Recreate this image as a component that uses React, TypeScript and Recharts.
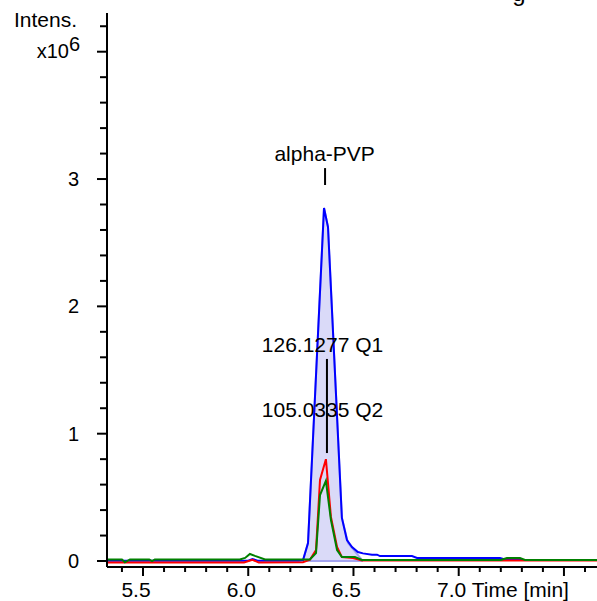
import React from 'react';
import { ComposedChart, Line, Area, XAxis, YAxis, ReferenceLine, ReferenceDot } from 'recharts';

// retention times (min) and intensities (x10^6)
const blueTimes = [5.329, 5.95, 6.0, 6.02, 6.045, 6.24, 6.26, 6.284, 6.36, 6.379, 6.445, 6.469, 6.493, 6.521, 6.545, 6.588, 6.612, 6.626, 6.778, 6.802, 7.196, 7.229, 7.657];
const blueValues = [0.003, 0.003, 0.003, 0.015, 0.003, 0.003, 0.005, 0.141, 2.772, 2.623, 0.338, 0.165, 0.11, 0.071, 0.06, 0.05, 0.05, 0.039, 0.039, 0.024, 0.024, 0.008, 0.008];

const redTimes = [5.329, 5.98, 6.02, 6.05, 6.26, 6.293, 6.322, 6.341, 6.369, 6.393, 6.422, 6.445, 6.498, 6.54, 7.657];
const redValues = [-0.012, -0.012, 0.01, -0.012, -0.01, 0.01, 0.086, 0.636, 0.8, 0.346, 0.11, 0.031, 0.024, 0.005, 0.005];

const greenTimes = [5.329, 5.4, 5.414, 5.438, 5.53, 5.543, 5.556, 5.96, 5.985, 6.008, 6.032, 6.08, 6.293, 6.322, 6.341, 6.369, 6.393, 6.422, 6.445, 6.507, 6.54, 7.2, 7.229, 7.291, 7.315, 7.657];
const greenValues = [0.012, 0.012, -0.01, 0.012, 0.012, 0.0, 0.012, 0.012, 0.024, 0.055, 0.04, 0.012, 0.012, 0.063, 0.518, 0.63, 0.322, 0.086, 0.031, 0.031, 0.008, 0.008, 0.024, 0.024, 0.008, 0.008];

// integrated peak region
const areaTimes = [6.26, 6.284, 6.36, 6.379, 6.445, 6.474, 6.545];
const areaValues = [0, 0.141, 2.772, 2.623, 0.338, 0.141, 0];

const xTicks = [5.4, 5.5, 5.6, 5.7, 5.8, 5.9, 6.0, 6.1, 6.2, 6.3, 6.4, 6.5, 6.6, 6.7, 6.8, 6.9, 7.0, 7.1, 7.2, 7.3, 7.4, 7.5, 7.6];
const xLabels: Record<string, string> = { '5.5': '5.5', '6': '6.0', '6.5': '6.5', '7': '7.0' };
const yTicks = [0, 0.2, 0.4, 0.6, 0.8, 1, 1.2, 1.4, 1.6, 1.8, 2, 2.2, 2.4, 2.6, 2.8, 3, 3.2, 3.4, 3.6, 3.8, 4, 4.2];
const yLabels: Record<string, string> = { '0': '0', '1': '1', '2': '2', '3': '3' };

// peak annotations: label, text position, marker from/to
const peakNames = ['alpha-PVP', '126.1277 Q1', '105.0335 Q2'];
const peakTextTimes = [6.363, 6.353, 6.353];
const peakTextValues = [3.14, 1.64, 1.13];
const markerTimes = [6.365, 6.374];
const markerFrom = [2.953, 0.848];
const markerTo = [3.086, 1.587];

const toRows = (t: number[], v: number[]) => t.map((time, i) => ({ t: time, v: v[i] }));
const blueData = toRows(blueTimes, blueValues);
const redData = toRows(redTimes, redValues);
const greenData = toRows(greenTimes, greenValues);
const areaData = toRows(areaTimes, areaValues);
const baseData = [{ t: areaTimes[0], v: 0 }, { t: areaTimes[areaTimes.length - 1], v: 0 }];

const FONT = '"Liberation Sans", Arial, sans-serif';
const W = 597;
const H = 601;
const LEFT = 107;
const BOTTOM = 567;

const XTick = (props: any) => {
  const { x, payload } = props;
  const val = payload.value;
  const major = Math.abs(val * 2 - Math.round(val * 2)) < 1e-6;
  const label = xLabels[String(Math.round(val * 10) / 10)];
  return (
    <g>
      <line x1={x} x2={x} y1={BOTTOM} y2={major ? BOTTOM + 9 : BOTTOM + 5} stroke="#000" strokeWidth={2} />
      {label && (
        <text x={x - 7} y={597} textAnchor="middle" fontSize={21} fontFamily={FONT} fill="#000">
          {label}
        </text>
      )}
      {label === '7.0' && (
        <text x={x + 13} y={597} textAnchor="start" fontSize={21} fontFamily={FONT} fill="#000">
          Time [min]
        </text>
      )}
    </g>
  );
};

const YTick = (props: any) => {
  const { y, payload } = props;
  const val = payload.value;
  const major = Math.abs(val - Math.round(val)) < 1e-6;
  const label = yLabels[String(Math.round(val * 10) / 10)];
  return (
    <g>
      <line x1={major ? LEFT - 10 : LEFT - 7} x2={LEFT} y1={y} y2={y} stroke="#000" strokeWidth={2} />
      {label && (
        <text x={79} y={y + 7} textAnchor="end" fontSize={20} fontFamily={FONT} fill="#000">
          {label}
        </text>
      )}
      {Math.abs(val - 4) < 1e-6 && (
        <text x={80} y={y + 6} textAnchor="end" fontSize={20} fontFamily={FONT} fill="#000">
          x10<tspan dy={-7}>6</tspan>
        </text>
      )}
    </g>
  );
};

const AxisTitle = () => (
  <g>
    <text x={77} y={27} textAnchor="end" fontSize={21} fontFamily={FONT} fill="#000">
      Intens.
    </text>
    <text x={519} y={1} textAnchor="middle" fontSize={24} fontFamily={FONT} fill="#000">
      g
    </text>
  </g>
);

const PeakText = (name: string) => (p: any) => (
  <text x={p.cx} y={p.cy} textAnchor="middle" fontSize={21} fontFamily={FONT} fill="#000">
    {name}
  </text>
);

export default function App() {
  return (
    <div style={{ position: 'absolute', left: 0, top: 0, width: W, height: H, background: '#fff' }}>
      <ComposedChart width={W} height={H} margin={{ top: 13, right: 0, bottom: 0, left: 0 }}>
        <XAxis
          xAxisId="main"
          type="number"
          dataKey="t"
          domain={[5.329, 7.657]}
          allowDataOverflow
          ticks={xTicks}
          tick={<XTick />}
          tickLine={false}
          axisLine={{ stroke: '#000', strokeWidth: 2 }}
          height={34}
          interval={0}
        />
        <XAxis
          xAxisId="top"
          orientation="top"
          type="number"
          dataKey="t"
          domain={[5.329, 7.657]}
          allowDataOverflow
          tick={false}
          tickLine={false}
          axisLine={{ stroke: '#000', strokeWidth: 2 }}
          height={0}
        />
        <YAxis
          type="number"
          domain={[-0.047, 4.304]}
          allowDataOverflow
          ticks={yTicks}
          tick={<YTick />}
          tickLine={false}
          axisLine={{ stroke: '#000', strokeWidth: 2 }}
          width={LEFT}
          interval={0}
          label={{ content: <AxisTitle /> }}
        />
        <Area
          xAxisId="main"
          data={areaData}
          dataKey="v"
          type="linear"
          baseValue={0}
          fill="#dadaf8"
          fillOpacity={1}
          stroke="#a4a4f0"
          strokeWidth={2}
          isAnimationActive={false}
        />
        <Line xAxisId="main" data={baseData} dataKey="v" type="linear" stroke="#a4a4f0" strokeWidth={2} dot={false} isAnimationActive={false} />
        <Line xAxisId="main" data={blueData} dataKey="v" type="linear" stroke="#0000ff" strokeWidth={2} dot={false} isAnimationActive={false} />
        <Line xAxisId="main" data={redData} dataKey="v" type="linear" stroke="#ff0000" strokeWidth={2} dot={false} isAnimationActive={false} />
        <Line xAxisId="main" data={greenData} dataKey="v" type="linear" stroke="#008000" strokeWidth={2} dot={false} isAnimationActive={false} />
        {markerTimes.map((t, i) => (
          <ReferenceLine
            key={'m' + i}
            xAxisId="main"
            segment={[{ x: t, y: markerFrom[i] }, { x: t, y: markerTo[i] }]}
            stroke="#000"
            strokeWidth={2}
          />
        ))}
        {peakNames.map((name, i) => (
          <ReferenceDot
            key={'p' + i}
            xAxisId="main"
            x={peakTextTimes[i]}
            y={peakTextValues[i]}
            r={0}
            shape={PeakText(name)}
          />
        ))}
      </ComposedChart>
    </div>
  );
}
